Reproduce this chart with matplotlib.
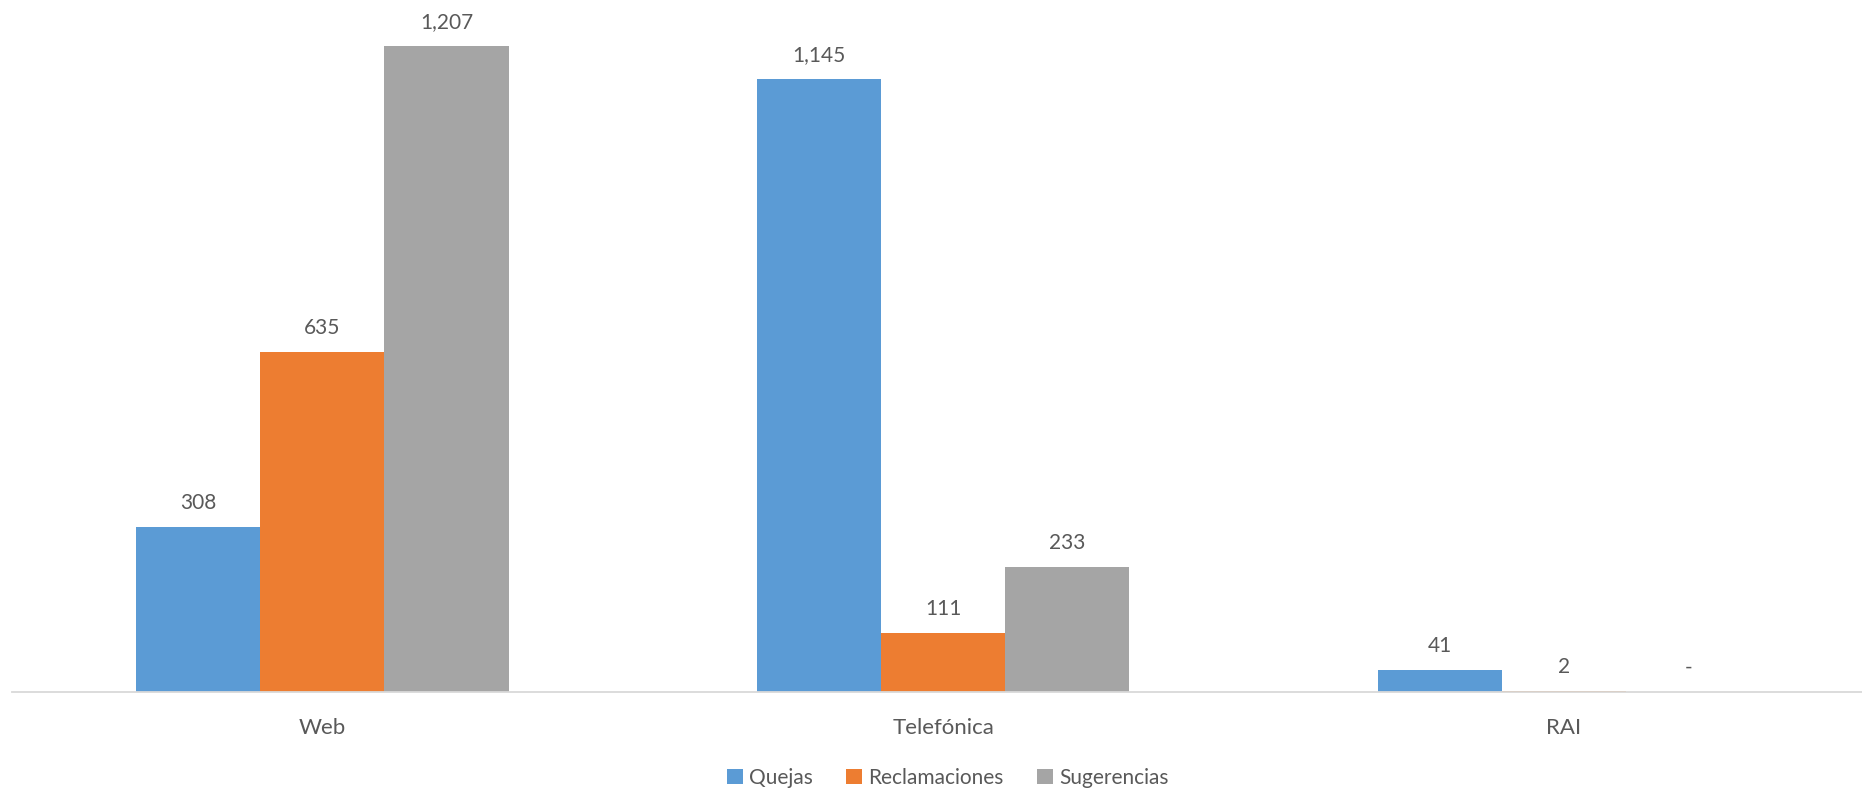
import matplotlib.pyplot as plt
import numpy as np

canales = ["Web", "Telefónica", "RAI"]
series = ["Quejas", "Reclamaciones", "Sugerencias"]
quejas = [308, 1145, 41]
reclamaciones = [635, 111, 2]
sugerencias = [1207, 233, 0]
colors = ["#5B9BD5", "#ED7D31", "#A5A5A5"]

plt.rcParams["font.family"] = ["Lato", "DejaVu Sans"]
text_color = "#595959"

fig = plt.figure(figsize=(18.62, 7.88), dpi=100)
ax = fig.add_axes([12 / 1862, 1 - 692 / 788, 1 - 12 / 1862, 692 / 788])

x = np.arange(len(canales))
width = 0.2
for i, (name, vals) in enumerate(zip(series, [quejas, reclamaciones, sugerencias])):
    bars = ax.bar(x + (i - 1) * width, vals, width, color=colors[i], label=name)
    for b, v in zip(bars, vals):
        txt = f"{v:,}" if v != 0 else "-"
        ax.annotate(txt, (b.get_x() + b.get_width() / 2, b.get_height()),
                    xytext=(0, 10), textcoords="offset points",
                    ha="center", va="bottom", fontsize=15, color=text_color)

ax.set_xlim(-0.5, 2.48)
ax.set_ylim(0, 1293)
ax.set_xticks(x)
ax.set_xticklabels(canales, fontsize=16, color=text_color)
ax.tick_params(axis="x", length=0, pad=19)
ax.set_yticks([])
for s in ["top", "right", "left"]:
    ax.spines[s].set_visible(False)
ax.spines["bottom"].set_color("#D9D9D9")
ax.spines["bottom"].set_linewidth(1.3)
ax.set_facecolor("none")

leg = fig.legend(loc="center", bbox_to_anchor=(0.509, 1 - 778 / 788), ncol=3,
                 frameon=False, fontsize=15, handlelength=0.75, handleheight=0.75,
                 handletextpad=0.3, columnspacing=1.6)
for t in leg.get_texts():
    t.set_color(text_color)

fig.savefig("out.png", dpi=100)
